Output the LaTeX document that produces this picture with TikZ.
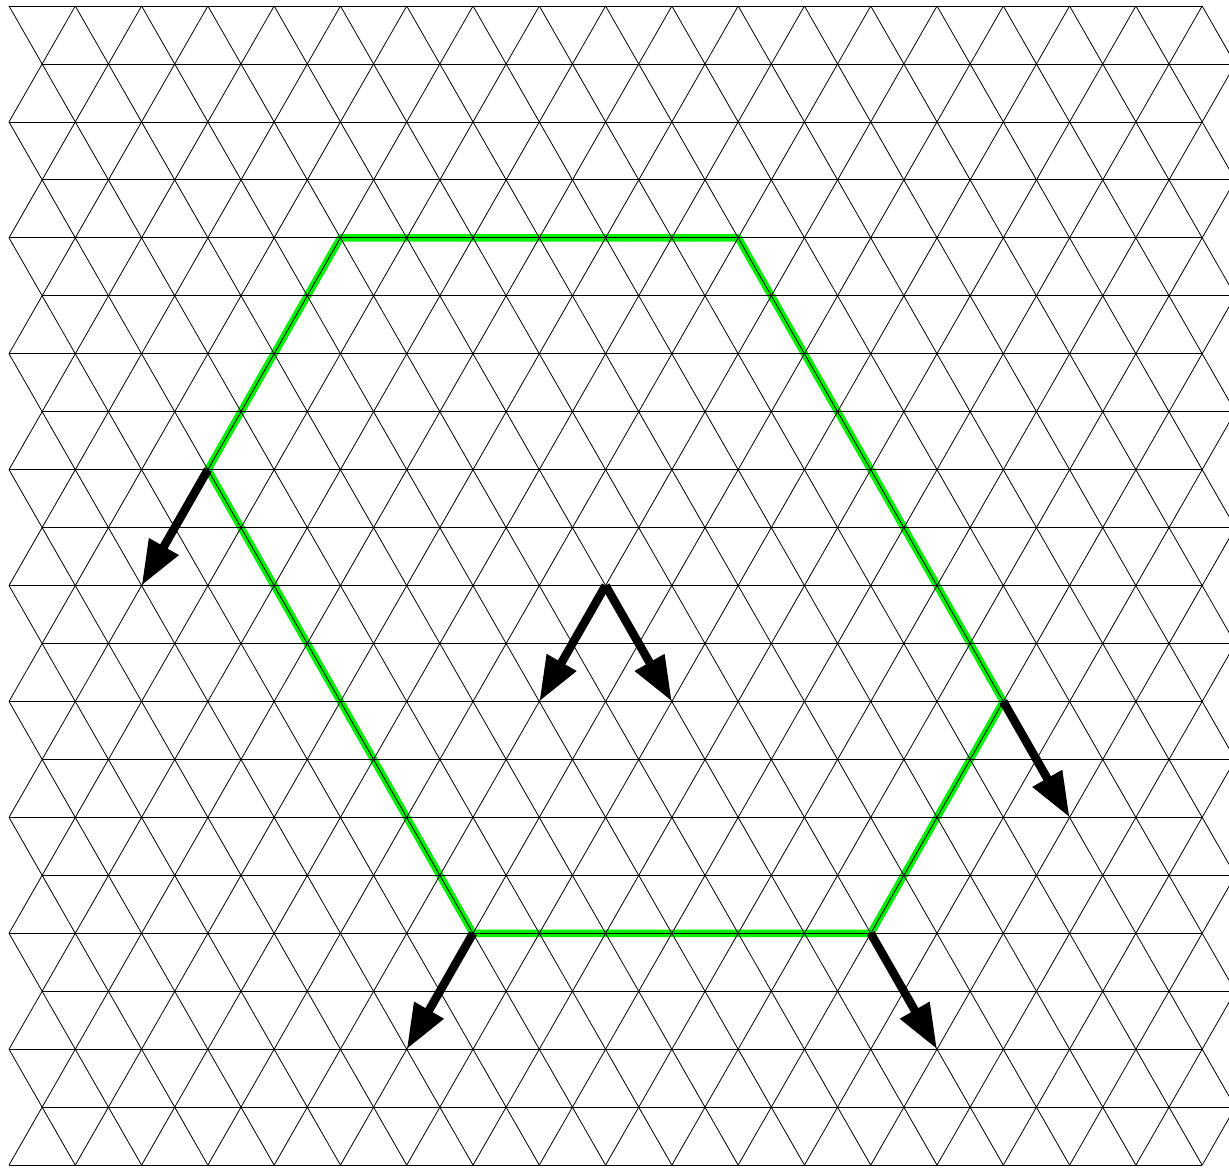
\documentclass[tikz,border=0pt]{standalone}
\usetikzlibrary{arrows.meta}
\tikzset{
  gridline/.style={black, line width=0.8pt},
  hexline/.style={draw={rgb,255:red,0;green,240;blue,0}, line width=7.5pt, line join=round},
  movearrow/.style={black, line width=8.5pt, -{Triangle[length=45pt,width=32pt]}}
}
\begin{document}
\begin{tikzpicture}[x=33.14pt, y=-57.95pt]
\useasboundingbox (-0.2716,-0.1035) rectangle (36.81,20.035);
\clip (-0.2716,-0.1035) rectangle (36.81,20.035);
% hexagon (under the grid)
\draw[hexline] (10,4) -- (22,4) -- (30,12) -- (26,16) -- (14,16) -- (6,8) -- cycle;
% horizontal lines
\foreach \r in {0,2,...,20} { \draw[gridline] (0,\r) -- (36,\r); }
\foreach \r in {1,3,...,19} { \draw[gridline] (1,\r) -- (37,\r); }
% diagonal lines
\foreach \r in {0,...,19} {
  \pgfmathtruncatemacro\p{mod(\r,2)}
  \pgfmathtruncatemacro\rn{\r+1}
  \foreach \k in {0,...,18} {
    \pgfmathtruncatemacro\u{2*\k+\p}
    \pgfmathtruncatemacro\ul{\u-1}
    \pgfmathtruncatemacro\ur{\u+1}
    \ifnum\u>0
      \draw[gridline] (\ul,\rn) -- (\u,\r);
    \fi
    \draw[gridline] (\u,\r) -- (\ur,\rn);
  }
}
% arrow endpoints
\coordinate (hl) at (6,8);
\coordinate (hlt) at (4,10);
\coordinate (c) at (18,10);
\coordinate (cl) at (16,12);
\coordinate (cr) at (20,12);
\coordinate (hr) at (30,12);
\coordinate (hrt) at (32,14);
\coordinate (bl) at (14,16);
\coordinate (blt) at (12,18);
\coordinate (br) at (26,16);
\coordinate (brt) at (28,18);
\draw[movearrow] (hl) -- (hlt);
\draw[movearrow] (c) -- (cl);
\draw[movearrow] (c) -- (cr);
\draw[movearrow] (hr) -- (hrt);
\draw[movearrow] (bl) -- (blt);
\draw[movearrow] (br) -- (brt);
\end{tikzpicture}
\end{document}
